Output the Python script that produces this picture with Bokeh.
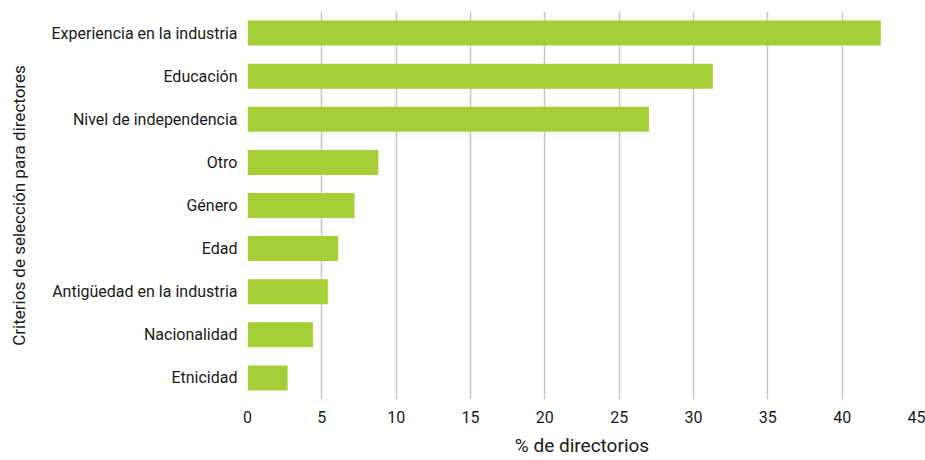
from bokeh.plotting import figure
from bokeh.models import Range1d, FactorRange, ColumnDataSource
from bokeh.embed import file_html
from bokeh.resources import INLINE

criterios = ["Experiencia en la industria", "Educación", "Nivel de independencia", "Otro",
             "Género", "Edad", "Antigüedad en la industria", "Nacionalidad", "Etnicidad"]
porcentajes = [42.6, 31.3, 27.0, 8.8, 7.2, 6.1, 5.4, 4.4, 2.7]
x_ticks = [0, 5, 10, 15, 20, 25, 30, 35, 40, 45]

FONT = "Roboto"
TEXT = "#1a1a1a"

source = ColumnDataSource(data=dict(criterio=criterios, pct=porcentajes))

p = figure(width=925, height=460, output_backend="svg", toolbar_location=None,
           y_range=FactorRange(factors=list(reversed(criterios)), range_padding=0),
           x_range=Range1d(0, 45),
           min_border_left=247, min_border_right=9, min_border_top=11, min_border_bottom=61)

p.hbar(y="criterio", right="pct", left=0, height=0.58, source=source,
       fill_color="#a6ce39", line_color=None)

p.outline_line_color = None
p.background_fill_color = "white"
p.border_fill_color = "white"

p.ygrid.grid_line_color = None
p.xgrid.grid_line_color = "#c9c5c7"
p.xgrid.grid_line_width = 1.5
p.xaxis.ticker = x_ticks

for ax in (p.xaxis[0], p.yaxis[0]):
    ax.axis_line_color = None
    ax.major_tick_line_color = None
    ax.minor_tick_line_color = None
    ax.major_tick_out = 0
    ax.major_tick_in = 0
    ax.major_label_text_font = FONT
    ax.major_label_text_color = TEXT
    ax.axis_label_text_font = FONT
    ax.axis_label_text_color = TEXT
    ax.axis_label_text_font_style = "normal"

p.xaxis.major_label_text_font_size = "16px"
p.xaxis.major_label_standoff = 11
p.xaxis.axis_label = "% de directorios"
p.xaxis.axis_label_text_font_size = "19px"
p.xaxis.axis_label_standoff = 8

p.yaxis.major_label_text_font_size = "16px"
p.yaxis.major_label_standoff = 10
p.yaxis.axis_label = "Criterios de selección para directores"
p.yaxis.axis_label_text_font_size = "17px"
p.yaxis.axis_label_standoff = 20

open("out.html", "w").write(file_html(p, INLINE))
